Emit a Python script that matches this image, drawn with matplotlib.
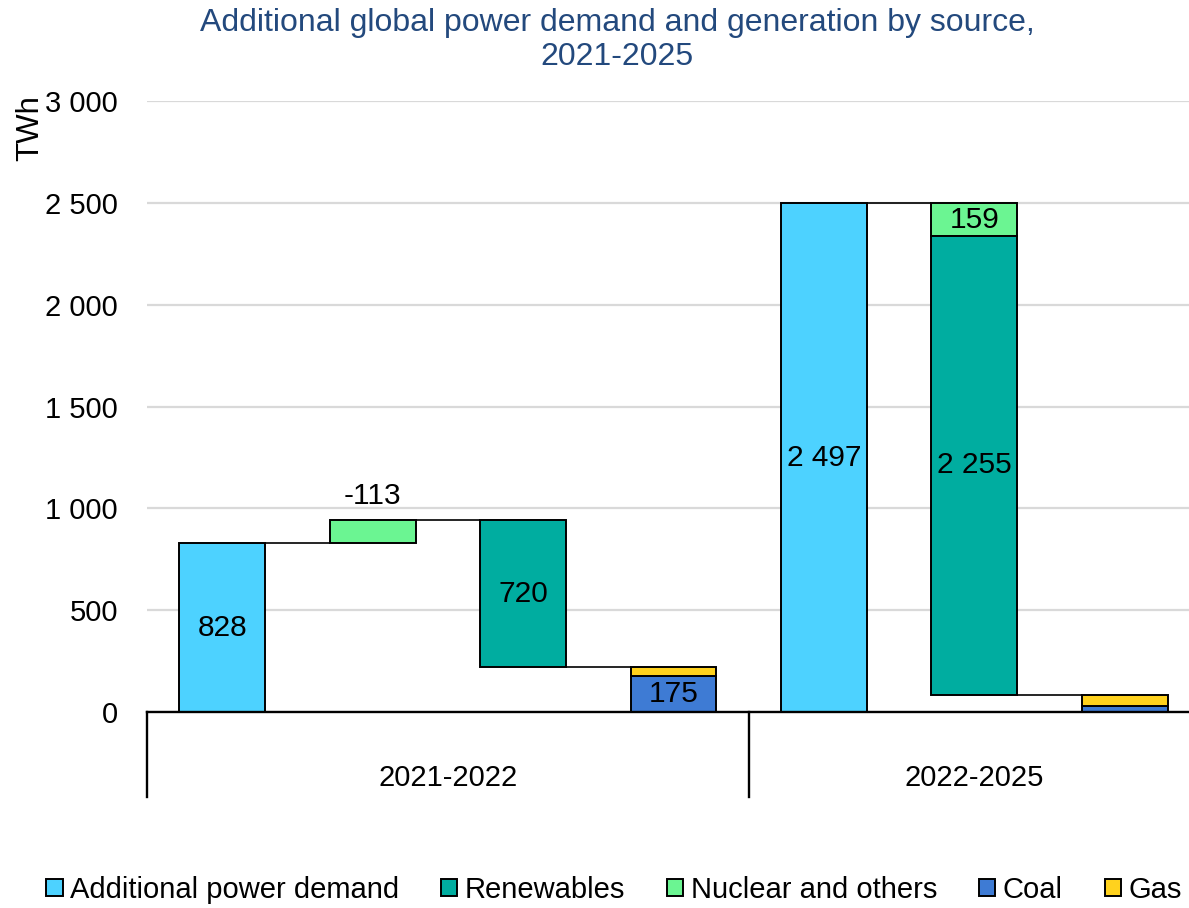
import matplotlib

matplotlib.use("Agg")

import matplotlib.pyplot as plt
from matplotlib.patches import Patch

plt.rcParams["font.family"] = ["Liberation Sans", "DejaVu Sans"]

# -----------------------------------------
# Data (TWh)
# -----------------------------------------

periods = ["2021-2022", "2022-2025"]
demand = [828, 2497]
nuclear = [-113, 159]
renewables = [720, 2255]
coal = [175, 30]
gas = [46, 53]

series_names = ["Additional power demand", "Renewables", "Nuclear and others", "Coal", "Gas"]
colors = {
    "Additional power demand": "#4DD2FF",
    "Renewables": "#00ADA0",
    "Nuclear and others": "#6BF592",
    "Coal": "#3E7BD4",
    "Gas": "#FFD21E",
}

yticks = [0, 500, 1000, 1500, 2000, 2500, 3000]


def fmt(v):
    return f"{v:,}".replace(",", " ")


fig = plt.figure(figsize=(11.89, 9.08), dpi=100)
ax = fig.add_axes([147 / 1189, 196 / 908, 1053 / 1189, 611 / 908])

width = 0.57
edge = dict(edgecolor="black", linewidth=1.4)
fs = 21
lab_fs = 21.5

# -----------------------------------------
# 2021-2022: one slot per step
# -----------------------------------------

level = demand[0]
ax.bar(0, demand[0], width, color=colors["Additional power demand"], **edge)
ax.text(0, demand[0] / 2, fmt(demand[0]), ha="center", va="center", fontsize=lab_fs)

top = level - nuclear[0]
ax.bar(1, top - level, width, bottom=level, color=colors["Nuclear and others"], **edge)
ax.text(1, top + 50, fmt(nuclear[0]), ha="center", va="bottom", fontsize=lab_fs)
ax.hlines(level, 0 + width / 2, 1 - width / 2, color="black", lw=1.2)
ax.hlines(top, 1 + width / 2, 2 - width / 2, color="black", lw=1.2)
level = top

bottom = level - renewables[0]
ax.bar(2, renewables[0], width, bottom=bottom, color=colors["Renewables"], **edge)
ax.text(2, bottom + renewables[0] / 2, fmt(renewables[0]), ha="center", va="center", fontsize=lab_fs)
ax.hlines(bottom, 2 + width / 2, 3 - width / 2, color="black", lw=1.2)

ax.bar(3, coal[0], width, color=colors["Coal"], **edge)
ax.bar(3, gas[0], width, bottom=coal[0], color=colors["Gas"], **edge)
ax.text(3, coal[0] / 2, fmt(coal[0]), ha="center", va="center", fontsize=lab_fs)

# -----------------------------------------
# 2022-2025: nuclear stacked on renewables
# -----------------------------------------

level = demand[1]
ax.bar(4, demand[1], width, color=colors["Additional power demand"], **edge)
ax.text(4, demand[1] / 2, fmt(demand[1]), ha="center", va="center", fontsize=lab_fs)
ax.hlines(level, 4 + width / 2, 5 - width / 2, color="black", lw=1.2)

nb = level - nuclear[1]
ax.bar(5, nuclear[1], width, bottom=nb, color=colors["Nuclear and others"], **edge)
ax.text(5, nb + nuclear[1] / 2, fmt(nuclear[1]), ha="center", va="center", fontsize=lab_fs)
rb = nb - renewables[1]
ax.bar(5, renewables[1], width, bottom=rb, color=colors["Renewables"], **edge)
ax.text(5, rb + renewables[1] / 2, fmt(renewables[1]), ha="center", va="center", fontsize=lab_fs)
ax.hlines(rb, 5 + width / 2, 6 - width / 2, color="black", lw=1.2)

ax.bar(6, coal[1], width, color=colors["Coal"], **edge)
ax.bar(6, gas[1], width, bottom=coal[1], color=colors["Gas"], **edge)

# -----------------------------------------
# Axes styling
# -----------------------------------------

ax.set_xlim(-0.5, 6.5)
ax.set_ylim(0, 3000)
ax.set_yticks(yticks)
ax.set_yticklabels([fmt(t) for t in yticks], fontsize=fs)
ax.tick_params(axis="y", length=0, pad=21)
ax.set_xticks([])
ax.grid(axis="y", color="#D9D9D9", linewidth=1.6)
ax.set_axisbelow(True)
for s in ["left", "right", "top"]:
    ax.spines[s].set_visible(False)
ax.spines["bottom"].set_linewidth(1.7)
ax.spines["bottom"].set_zorder(5)

# multi-level category axis
sep_y = -85 / 611
for xs in [-0.5, 3.5]:
    ax.plot([xs, xs], [0, sep_y], color="black", lw=1.7,
            transform=ax.get_xaxis_transform(), clip_on=False)
for xc, name in zip([1.5, 5.0], periods):
    ax.text(xc, -66 / 611, name, ha="center", va="center", fontsize=fs,
            transform=ax.get_xaxis_transform())

ax.text(-117 / 1053, 0.955, "TWh", rotation=90, ha="center", va="center",
        fontsize=22.5, transform=ax.transAxes)

fig.text(617 / 1189, 1 - 40 / 908,
         "Additional global power demand and generation by source,\n2021-2025",
         ha="center", va="center", fontsize=23, color="#23497D", linespacing=1.2)

handles = [Patch(facecolor=colors[n], edgecolor="black", linewidth=1.4) for n in series_names]
fig.legend(handles, series_names, loc="center", bbox_to_anchor=(614 / 1189, 1 - 890 / 908),
           ncol=5, frameon=False, fontsize=fs, handlelength=0.55, handleheight=0.55,
           handletextpad=0.25, columnspacing=1.45)

fig.savefig("out.png", dpi=100)
